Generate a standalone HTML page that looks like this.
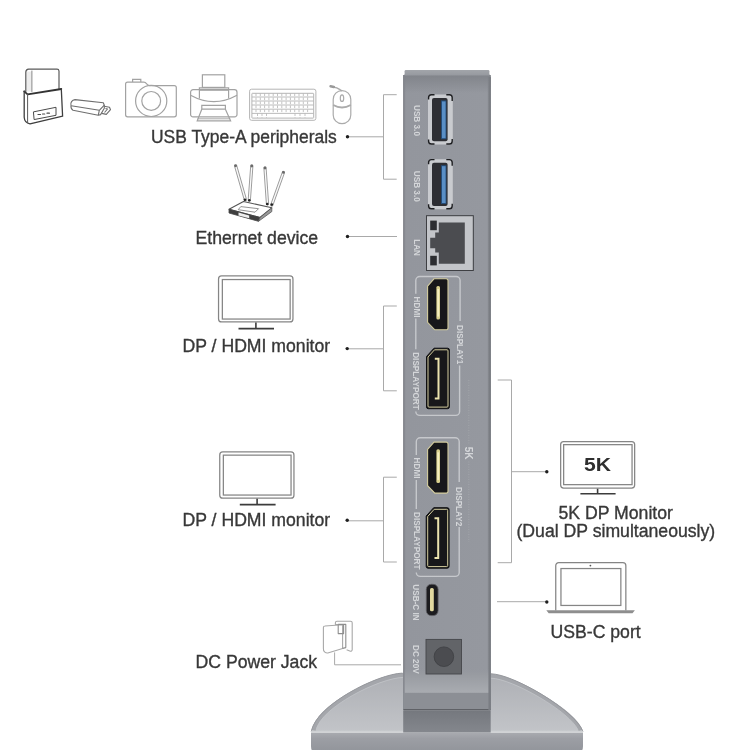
<!DOCTYPE html>
<html><head><meta charset="utf-8">
<style>
html,body{margin:0;padding:0;background:#fff;width:750px;height:750px;overflow:hidden}
svg{display:block;filter:blur(0.35px)}
.t{font-family:"Liberation Sans",sans-serif;font-size:17.65px;fill:#383838;stroke:#383838;stroke-width:0.35px}
.s{font-family:"Liberation Sans",sans-serif;font-size:8.2px;font-weight:bold;fill:#d4d6d9}
.ln{stroke:#a9a9a9;stroke-width:1;fill:none}
.ic{fill:none;stroke:#8c8c8c;stroke-width:1.2}
</style></head>
<body>
<svg width="750" height="750" viewBox="0 0 750 750">
<defs>
<linearGradient id="body" x1="0" y1="0" x2="1" y2="0">
<stop offset="0" stop-color="#8c8f95"/>
<stop offset="0.04" stop-color="#93969d"/>
<stop offset="0.95" stop-color="#95989f"/>
<stop offset="1" stop-color="#8a8d93"/>
</linearGradient>
</defs>

<!-- ===== STAND BASE ===== -->
<linearGradient id="btop" x1="0" y1="0" x2="0" y2="1">
<stop offset="0" stop-color="#adafb4"/><stop offset="1" stop-color="#c2c4c8"/>
</linearGradient>
<linearGradient id="bfront" x1="0" y1="0" x2="0" y2="1">
<stop offset="0" stop-color="#a9abb0"/><stop offset="0.35" stop-color="#9c9ea4"/><stop offset="1" stop-color="#93969c"/>
</linearGradient>
<path d="M311.2,731.5 C316.5,704.6 377.5,674 402.5,673.1 L491,673.8 C513.6,674.2 575,710.4 583,731.5 Z" fill="url(#btop)"/>
<path d="M313.6,730.5 C318.6,706 378,676 403,675.2 M491,676 C513,676.4 572.6,711 580.6,730.5" fill="none" stroke="#a4a6ab" stroke-width="4"/>
<path d="M316.2,730 C320.8,707.6 378.5,678.3 403,677.4 M491,678.2 C512.5,678.6 570.2,712 578,730" fill="none" stroke="#c3c5c9" stroke-width="0.8"/>
<path d="M311.2,731.5 C316.5,704.6 377.5,674 402.5,673.1 M491,673.8 C513.6,674.2 575,710.4 583,731.5" fill="none" stroke="#96989d" stroke-width="1"/>
<path d="M311,732.5 H583 V745 Q583,750 582,750 H312 Q311,750 311,745 Z" fill="url(#bfront)"/>
<path d="M311.2,731.6 H582.8" stroke="#cfd1d4" stroke-width="1.6"/>

<!-- ===== DEVICE BODY ===== -->
<path d="M403.2,710V77.5Q403.2,74.6 405,74.6H489Q490.8,74.6 490.8,77.5V710Z" fill="url(#body)"/>
<linearGradient id="topsh" x1="0" y1="0" x2="0" y2="1">
<stop offset="0" stop-color="#7f8288" stop-opacity="0.9"/><stop offset="1" stop-color="#7f8288" stop-opacity="0"/>
</linearGradient>
<rect x="403.2" y="75" width="87.6" height="18" fill="url(#topsh)"/>
<linearGradient id="topb" x1="0" y1="0" x2="0" y2="1">
<stop offset="0" stop-color="#a2a5aa"/><stop offset="1" stop-color="#96999f"/>
</linearGradient>
<path d="M404.6,75.5V71.2Q404.6,70 405.8,70H488.2Q489.4,70 489.4,71.2V75.5Z" fill="url(#topb)"/>
<rect x="403.2" y="75" width="1.5" height="635" fill="#84878d"/>
<linearGradient id="low" x1="0" y1="0" x2="0" y2="1">
<stop offset="0" stop-color="#95989f" stop-opacity="0"/><stop offset="0.25" stop-color="#989ba1"/><stop offset="1" stop-color="#a9acb1"/>
</linearGradient>
<rect x="404.7" y="668" width="84.5" height="25" fill="url(#low)"/>
<rect x="403.5" y="692.8" width="87" height="16.2" fill="#8c8f95"/>
<rect x="403.5" y="709" width="87" height="1.5" fill="#5f6166"/>
<linearGradient id="rec" x1="0" y1="0" x2="0" y2="1">
<stop offset="0" stop-color="#75787e"/><stop offset="1" stop-color="#84878d"/>
</linearGradient>
<rect x="403.2" y="710.5" width="87.5" height="22" fill="url(#rec)"/>
<linearGradient id="redge" x1="0" y1="0" x2="1" y2="0">
<stop offset="0" stop-color="#7c7f85" stop-opacity="0"/><stop offset="0.45" stop-color="#7c7f85"/><stop offset="1" stop-color="#75787e"/>
</linearGradient>
<rect x="487.6" y="77" width="3.2" height="633" fill="url(#redge)"/>

<!-- USB ports -->
<g id="usb">
<rect x="428" y="94.4" width="24.8" height="50" rx="3" fill="#c9cbcf"/>
<path d="M428.6,99.5V97.6A2.8,2.8 0 0 1 431.4,94.8H434.5 M446.3,94.8H449.4A2.8,2.8 0 0 1 452.2,97.6V101 M428.6,139.5V141.2A2.8,2.8 0 0 0 431.4,144H434.5 M446.3,144H449.4A2.8,2.8 0 0 0 452.2,141.2V139" fill="none" stroke="#1d1e21" stroke-width="1.4"/>
<rect x="432" y="98" width="15.6" height="43.2" rx="2" fill="#2d2e33"/>
<rect x="441" y="100.4" width="5.4" height="38.8" fill="#254c78"/>
<rect x="442" y="101.4" width="3.6" height="36.8" fill="#5a8fc6"/>
</g>
<use href="#usb" y="64.8"/>

<!-- LAN -->
<rect x="426" y="215.2" width="47.8" height="55.8" fill="#3e3f43"/>
<rect x="427" y="216.2" width="45.8" height="53.8" fill="#c3c5c9"/>
<path d="M438.8,222.4H464.8V263.8H438.8V252.6H435.2V248.2H430.2V237.8H435.2V232.6H438.8Z" fill="#4b4c50"/>
<rect x="430.2" y="220.6" width="6.6" height="9.6" fill="#2c2d31"/>
<rect x="430.2" y="255.8" width="6.6" height="9.6" fill="#2c2d31"/>

<!-- group outlines -->
<g fill="none" stroke="#c6c8cc" stroke-width="1.4">
<path d="M415.8,293.8V280.5A4,4 0 0 1 419.8,276.5H456.1A4,4 0 0 1 460.1,280.5V321"/>
<path d="M415.8,318.5V349.2"/>
<path d="M415.8,411.6V411.4A4,4 0 0 0 419.8,415.4H455.6A4,4 0 0 0 459.6,411.4V365.4"/>
<path d="M416.3,455V441.7A4,4 0 0 1 420.3,437.7H455.2A4,4 0 0 1 459.2,441.7V482"/>
<path d="M416.3,480V509"/>
<path d="M416.3,572.4A4,4 0 0 0 420.3,576.4H455.2A4,4 0 0 0 459.2,572.4V527"/>
</g>

<!-- HDMI ports -->
<g id="hdmi">
<path d="M434,278.8H446.2A1.8,1.8 0 0 1 448,280.6V328A1.8,1.8 0 0 1 446.2,329.8H434.8L427.6,322.4V286.2Z" fill="#17171a" stroke="#d4cd9e" stroke-width="1.1"/>
<rect x="436.4" y="286" width="3.6" height="33.6" rx="1.5" fill="#d9d08e"/>
<rect x="437.3" y="289" width="1.8" height="27.6" fill="#f6efc0"/>
</g>
<use href="#hdmi" x="0" y="163.3"/>

<!-- DP ports -->
<g id="dp">
<path d="M434,348.2H447.6A1.8,1.8 0 0 1 449.4,350V406.9A1.8,1.8 0 0 1 447.6,408.7H428.3A1.8,1.8 0 0 1 426.5,406.9V356.5Z" fill="#17171a" stroke="#0f0f10" stroke-width="1"/>
<path d="M434.5,349.8H447A1,1 0 0 1 448,350.8V406.1A1,1 0 0 1 447,407.1H429A1,1 0 0 1 428,406.1V357Z" fill="none" stroke="#d4cd9e" stroke-width="1"/>
<path d="M434.8,358.8H438.5V398.4H434.8" fill="none" stroke="#ebe3ae" stroke-width="2"/>
</g>
<use href="#dp" x="-0.3" y="159.5"/>

<!-- USB-C -->
<rect x="426.3" y="584.3" width="11.8" height="31.3" rx="5" fill="#1c1c1f" stroke="#5f6064" stroke-width="0.8"/>
<rect x="430" y="588" width="3.8" height="23.3" rx="1.6" fill="#e2d9a0"/>

<!-- DC jack -->
<rect x="426" y="639.4" width="35.5" height="34.6" fill="#626468" stroke="#45464a" stroke-width="0.9"/>
<circle cx="443.9" cy="656.7" r="9.8" fill="#4b4c50" stroke="#3e3f43" stroke-width="0.8"/>

<!-- device labels (rotated) -->
<g class="s">
<text transform="translate(414,105) rotate(90)">USB 3.0</text>
<text transform="translate(414,170.8) rotate(90)">USB 3.0</text>
<text transform="translate(413.5,239.2) rotate(90)">LAN</text>
<text transform="translate(413.9,296.6) rotate(90)">HDMI</text>
<text transform="translate(413.4,352.2) rotate(90)">DISPLAYPORT</text>
<text transform="translate(456.8,325) rotate(90)">DISPLAY1</text>
<text transform="translate(414,457.6) rotate(90)">HDMI</text>
<text transform="translate(413.6,512) rotate(90)">DISPLAYPORT</text>
<text transform="translate(456.3,487) rotate(90)">DISPLAY2</text>
<text transform="translate(465,446.8) rotate(90)" style="font-size:10px">5K</text>
<text transform="translate(413.3,584.3) rotate(90)">USB-C IN</text>
<text transform="translate(413.3,645) rotate(90)">DC 20V</text>
</g>
<path d="M468.8,380V444 M468.8,461.6V542" stroke="#a6a9ae" stroke-width="0.9" stroke-dasharray="0.9 1.6"/>

<!-- ===== TEXT LABELS ===== -->
<text class="t" x="151" y="143.2" style="font-size:17.45px">USB Type-A peripherals</text>
<text class="t" x="195.5" y="243.5">Ethernet device</text>
<text class="t" x="182.5" y="351.5">DP / HDMI monitor</text>
<text class="t" x="182.5" y="526">DP / HDMI monitor</text>
<text class="t" x="195.5" y="667.6">DC Power Jack</text>
<text class="t" x="558.5" y="519">5K DP Monitor</text>
<text class="t" x="516.5" y="537.2">(Dual DP simultaneously)</text>
<text class="t" x="550.5" y="637.5">USB-C port</text>

<!-- ===== CONNECTOR LINES ===== -->
<g class="ln">
<path d="M396.7,94.7H383.5V179.2H396.7 M383.5,136.8H348"/>
<path d="M348,236.5H397"/>
<path d="M396.8,306H383.5V390.8H396.8 M383.5,348.8H348"/>
<path d="M396.8,477.2H383.5V562H396.8 M383.5,520.8H348"/>
<path d="M497.7,380H511.5V562.7H497.7 M511.5,471.7H546"/>
<path d="M497,601.7H546"/>
</g>
<g fill="#1e1e1e">
<circle cx="347.5" cy="136.8" r="1.7"/>
<circle cx="347.5" cy="236.5" r="1.7"/>
<circle cx="347.2" cy="348.6" r="1.7"/>
<circle cx="347.2" cy="520.3" r="1.7"/>
<circle cx="546.8" cy="471.7" r="1.7"/>
<circle cx="546.8" cy="602" r="1.7"/>
</g>


<!-- ===== MONITORS ===== -->
<g fill="none" stroke="#858585" stroke-width="1.25">
<rect x="218.55" y="275.95" width="74.4" height="46" rx="3"/>
<rect x="222.35" y="279.55" width="67.8" height="39.5"/>
<rect x="219.75" y="451.95" width="74.2" height="46.2" rx="3"/>
<rect x="223.35" y="455.15" width="67.7" height="39.9"/>
<rect x="560.65" y="441.55" width="74" height="46.5" rx="3"/>
<rect x="563.65" y="444.65" width="68.4" height="40"/>
<path d="M555.75,610.5V565.7A3,3 0 0 1 558.75,562.65H622.85A3,3 0 0 1 625.85,565.65V610.5"/>
<rect x="560.95" y="568.55" width="59.9" height="36.9"/>
</g>
<g stroke="#3c3c3c" stroke-width="1.6" fill="none">
<path d="M255.9,322.6V328.5 M238.5,328.6H274"/>
<path d="M257.1,498.8V504.5 M239.8,504.6H275.6"/>
<path d="M597.6,488.7V493.7 M580.4,493.8H615.6"/>
</g>
<path d="M546.3,610.2H634.9L632.5,613.3H548.7Z" fill="#8e8e8e"/>
<circle cx="590.4" cy="565.6" r="0.9" fill="#555"/>
<text x="584" y="470.7" style="font-family:'Liberation Sans',sans-serif;font-weight:bold;font-size:17.5px;fill:#2f2f2f" textLength="27" lengthAdjust="spacingAndGlyphs">5K</text>


<!-- ===== TOP ICONS ===== -->
<!-- hard drive dock -->
<g fill="none" stroke-linejoin="round" stroke-linecap="round">
<path d="M26.4,71.5H31.9V91.6H26.4Z" fill="#ededed" stroke="none"/>
<path d="M25.8,91.5V72A3,3 0 0 1 28.6,69.2H57A2,2 0 0 1 59,71V89" stroke="#5a5a5a" stroke-width="1.2"/>
<path d="M31.9,71V91.5" stroke="#8a8a8a" stroke-width="1"/>
<path d="M24.2,91.3L27.6,94.4L61.3,89" stroke="#333" stroke-width="1.8"/>
<path d="M24.2,91.5V117.3A7,7 0 0 0 30,123.8L62.6,116.2L61.3,89" stroke="#3f3f3f" stroke-width="1.3"/>
<path d="M27.6,94.4V122.6" stroke="#5a5a5a" stroke-width="1"/>
<path d="M33.8,111.8L56,107.3V115.3L34.5,119.5Z" stroke="#4a4a4a" stroke-width="1"/>
<path d="M38,114.5h2.5M42.5,114h2.2M47,113.2h2.4" stroke="#4a4a4a" stroke-width="1.2"/>
</g>
<!-- usb stick -->
<g fill="none" stroke="#6e6e6e" stroke-width="1.1" stroke-linejoin="round">
<path d="M104.3,105.2L103.3,102.7L75,99.6A4.5,4.5 0 0 0 71,105.5A5,5 0 0 0 73,110.3L98.3,115.2L100.6,114.6L104.3,108.2Z"/>
<path d="M71.2,105.8L99.3,110.3L104.3,105.2M99.3,110.3L98.3,115.2"/>
<path d="M104.2,106.3L109.5,107.3L110.5,109.7L106.3,114.4L101.8,113.4"/>
<path d="M105.5,108.5L107.5,109L104.5,112.5"/>
</g>
<!-- camera -->
<g fill="none" stroke="#a2a2a2" stroke-width="1.2">
<path d="M125.6,114.8V84.1A2,2 0 0 1 127.6,82.1H143.8Q145.5,82.1 146.6,83.8Q147.6,85.6 149.5,85.6H174.3A2,2 0 0 1 176.3,87.6V114.8A2,2 0 0 1 174.3,116.8H127.6A2,2 0 0 1 125.6,114.8Z"/>
<path d="M132.6,82.1V79.3H140.8V82.1"/>
<circle cx="151.2" cy="100.9" r="15.6"/>
<circle cx="151.2" cy="100.9" r="9.4"/>
</g>
<!-- printer -->
<g fill="none" stroke="#a2a2a2" stroke-width="1.2">
<rect x="202.4" y="74.8" width="22.4" height="12.6"/>
<path d="M199.4,98.4V87.8H228.6V98.4M199.4,90.2H228.6"/>
<path d="M190.6,114.4V92.2A2.6,2.6 0 0 1 193.2,89.6H234.4A2.6,2.6 0 0 1 237,92.2V114.4A2.4,2.4 0 0 1 234.6,116.8H193A2.4,2.4 0 0 1 190.6,114.4Z"/>
<path d="M190.6,95.2Q213.8,108 237,95.2"/>
<path d="M201.8,109.2V105.4H225.4V109.2H201.8L197.2,120.8H230.6L225.4,109.2"/>
<path d="M197.6,118.8H230.2" stroke-width="0.9"/>
</g>
<!-- keyboard -->
<g fill="none" stroke="#b4b4b4" stroke-width="1">
<rect x="249.6" y="89.2" width="66.3" height="31.1" rx="2"/>
<rect x="251.9" y="93.3" width="61.8" height="24.8" rx="0.5"/>
<path d="M252,97H313.5M252,101H313.5M252,105H313.5M252,109.2H313.5M252,113.4H313.5" stroke-width="0.9"/>
<path d="M256,93.5V113.3M260.3,93.5V113.3M264.6,93.5V113.3M268.9,93.5V113.3M273.2,93.5V113.3M277.5,93.5V113.3M281.8,93.5V113.3M286.1,93.5V113.3M290.4,93.5V113.3M294.7,93.5V113.3M299,93.5V113.3M303.3,93.5V113.3M307.6,93.5V113.3M257.5,113.4V118M262,113.4V118M266.5,113.4V118M295,113.4V118M300,113.4V118M305,113.4V118" stroke-width="0.8" stroke-dasharray="2.6 1.4"/>
</g>
<!-- mouse -->
<g fill="none" stroke="#ababab" stroke-width="1.2">
<rect x="333.2" y="90.6" width="17.6" height="33.1" rx="8.8"/>
<ellipse cx="342" cy="98.2" rx="1.7" ry="3.3"/>
<path d="M333.2,105Q342,110 350.8,105" stroke-width="2"/>
<path d="M332,86.8Q337.5,87.6 340,89.6Q341.2,90.4 342,90.8" stroke-width="1.4"/>
<path d="M330.6,86.2L333.8,87" stroke="#9a9a9a" stroke-width="2.6" stroke-linecap="round"/>
</g>
<!-- router -->
<g stroke-linejoin="round">
<g stroke-linecap="round">
<path d="M235.6,165.8L245.4,199.7M251.8,166L249.3,200.1M265,168L267.5,203.8M283.4,172.5L271.8,205" stroke="#9a9a9a" stroke-width="3.2"/>
<path d="M235.6,165.8L245.4,199.7M251.8,166L249.3,200.1M265,168L267.5,203.8M283.4,172.5L271.8,205" stroke="#fafafa" stroke-width="1.3"/>
</g>
<g fill="#6a6a6a">
<circle cx="235.6" cy="165.8" r="1.4"/><circle cx="251.8" cy="166" r="1.4"/><circle cx="265" cy="168" r="1.4"/><circle cx="283.4" cy="172.4" r="1.4"/>
</g>
<path d="M229,209.2L243.5,201.5L271.8,207.8L260,217.5Z" fill="#fff" stroke="#555" stroke-width="1.1"/>
<path d="M229,209.2V213L258.5,221.3L260,217.5Z" fill="#3f3f3f" stroke="#444" stroke-width="0.8"/>
<path d="M260,217.5L271.8,207.8V211.6L258.5,221.3Z" fill="#999" stroke="#555" stroke-width="0.8"/>
<path d="M238.5,212.6L249.2,215.4V218.3L238.5,215.5Z" fill="#eee"/>
<path d="M240.8,206.6L258.5,208.7L255,212.2L238.2,209.7Z" fill="none" stroke="#777" stroke-width="0.8"/>
<g fill="#222"><circle cx="244.9" cy="199.8" r="1.3"/><circle cx="249.3" cy="200.2" r="1.3"/><circle cx="267.2" cy="204" r="1.3"/><circle cx="271.8" cy="204.6" r="1.3"/></g>
</g>
<!-- power adapter -->
<g fill="none" stroke="#a8a8a8" stroke-width="1.1" stroke-linejoin="round">
<path d="M338.2,624.6L335.4,624.6V622.8A1.6,1.6 0 0 1 337,621.2H350.6A1.6,1.6 0 0 1 352.2,622.8V649.6A1.6,1.6 0 0 1 350.4,651.2L346.6,649.8"/>
<path d="M342.6,624.8L325,626A1.6,1.6 0 0 0 323.4,627.6V648.5A4,4 0 0 0 328.6,652.8L342.6,648.4Z" fill="#fff"/>
<path d="M338.2,624.4H345.8V647.6L342.6,648.4M338.2,624.4V633.6H343.6V624.4" stroke="#8e8e8e"/>
<path d="M334.6,652.4V664.8H401" stroke="#a9a9a9" stroke-width="1"/>
</g>

</svg>
</body></html>
